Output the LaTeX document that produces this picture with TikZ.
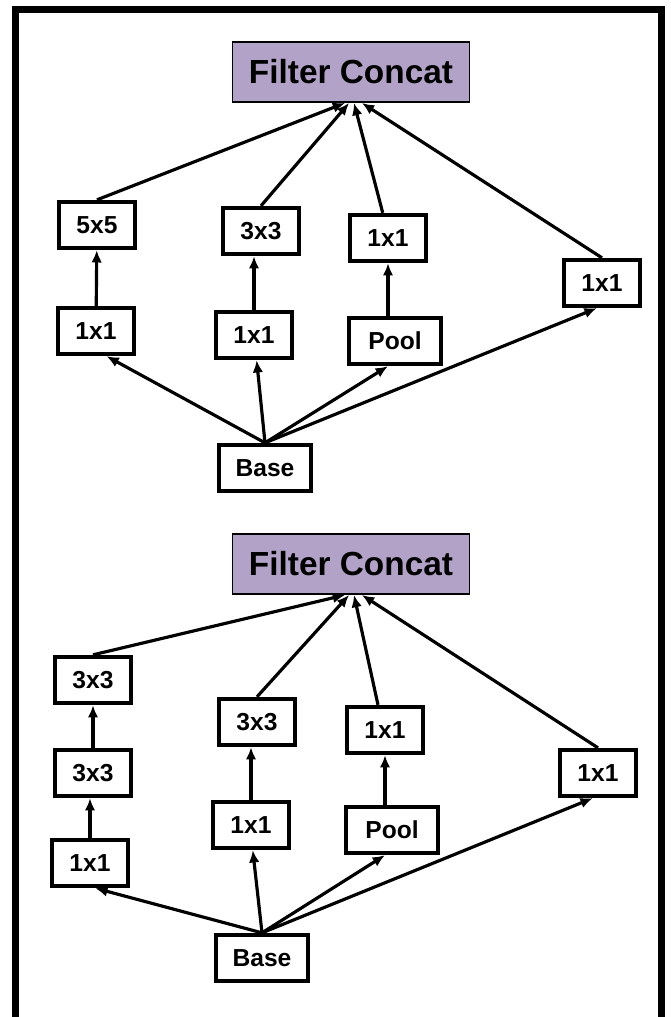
\documentclass[tikz,border=0pt]{standalone}
\usepackage{fontspec}
\setmainfont{Liberation Sans}
\usetikzlibrary{arrows.meta}
\definecolor{concatfill}{HTML}{B3A2C7}

\begin{document}
\begin{tikzpicture}[x=0.02cm,y=-0.02cm,
	box/.style={draw,line width=2.2pt,inner sep=0,minimum width=1.53cm,minimum height=0.93cm,font=\fontsize{14}{16}\selectfont\bfseries},
	widebox/.style={box,minimum width=1.83cm},
	concat/.style={draw,line width=1.1pt,fill=concatfill,inner sep=0,minimum width=4.74cm,minimum height=1.2cm,font=\fontsize{19}{22}\selectfont\bfseries},
	link/.style={line width=1.8pt,-{Latex[length=7pt,width=6pt]}}]
	\useasboundingbox (0,0) rectangle (670,1017);
	\draw[line width=3.6pt] (15.5,1017) -- (15.5,9.5) -- (661.5,9.5) -- (661.5,1017);
	% upper module
	\node[concat] (fc1) at (351,72) {Filter Concat};
	\node[box] (a55) at (97,225) {5x5};
	\node[box] (a11l) at (96,331) {1x1};
	\node[box] (a33) at (261,231) {3x3};
	\node[box] (a11c) at (254,335) {1x1};
	\node[box] (a11u) at (388,238) {1x1};
	\node[widebox] (apool) at (395,341) {Pool};
	\node[box] (a11r) at (602,283) {1x1};
	\node[widebox] (abase) at (265,468) {Base};
	\draw[link] (abase.north) -- ([xshift=6pt]a11l.south);
	\draw[link] (abase.north) -- ([xshift=1.5pt]a11c.south);
	\draw[link] (abase.north) -- ([xshift=-4pt]apool.south);
	\draw[link] (abase.north) -- ([xshift=-3pt]a11r.south);
	\draw[link] (a11l) -- (a55);
	\draw[link] (a11c.north) -- (a11c.north |- a33.south);
	\draw[link] (apool.north -| a11u) -- (a11u.south);
	\draw[link] (a55.north) -- ([xshift=-3.4pt]fc1.south);
	\draw[link] (a33.north) -- ([xshift=-1.1pt]fc1.south);
	\draw[link] ([xshift=-3pt]a11u.north) -- ([xshift=1.7pt]fc1.south);
	\draw[link] (a11r.north) -- ([xshift=6.2pt]fc1.south);
	% lower module
	\node[concat] (fc2) at (351,564) {Filter Concat};
	\node[box] (b33t) at (93,680) {3x3};
	\node[box] (b33m) at (93,773) {3x3};
	\node[box] (b11l) at (90,863) {1x1};
	\node[box] (b33c) at (257,722) {3x3};
	\node[box] (b11c) at (251,825) {1x1};
	\node[box] (b11u) at (385,730) {1x1};
	\node[widebox] (bpool) at (392,830) {Pool};
	\node[box] (b11r) at (598,773) {1x1};
	\node[widebox] (bbase) at (262,958) {Base};
	\draw[link] (bbase.north) -- ([xshift=3pt]b11l.south);
	\draw[link] (bbase.north) -- ([xshift=1pt]b11c.south);
	\draw[link] (bbase.north) -- ([xshift=-4pt]bpool.south);
	\draw[link] (bbase.north) -- ([xshift=-3pt]b11r.south);
	\draw[link] (b11l.north) -- (b11l.north |- b33m.south);
	\draw[link] (b33m) -- (b33t);
	\draw[link] (b11c.north) -- (b11c.north |- b33c.south);
	\draw[link] (bpool.north -| b11u) -- (b11u.south);
	\draw[link] (b33t.north) -- ([xshift=-3.4pt]fc2.south);
	\draw[link] (b33c.north) -- ([xshift=-1.1pt]fc2.south);
	\draw[link] ([xshift=-4pt]b11u.north) -- ([xshift=1.7pt]fc2.south);
	\draw[link] (b11r.north) -- ([xshift=6.2pt]fc2.south);
\end{tikzpicture}
\end{document}
